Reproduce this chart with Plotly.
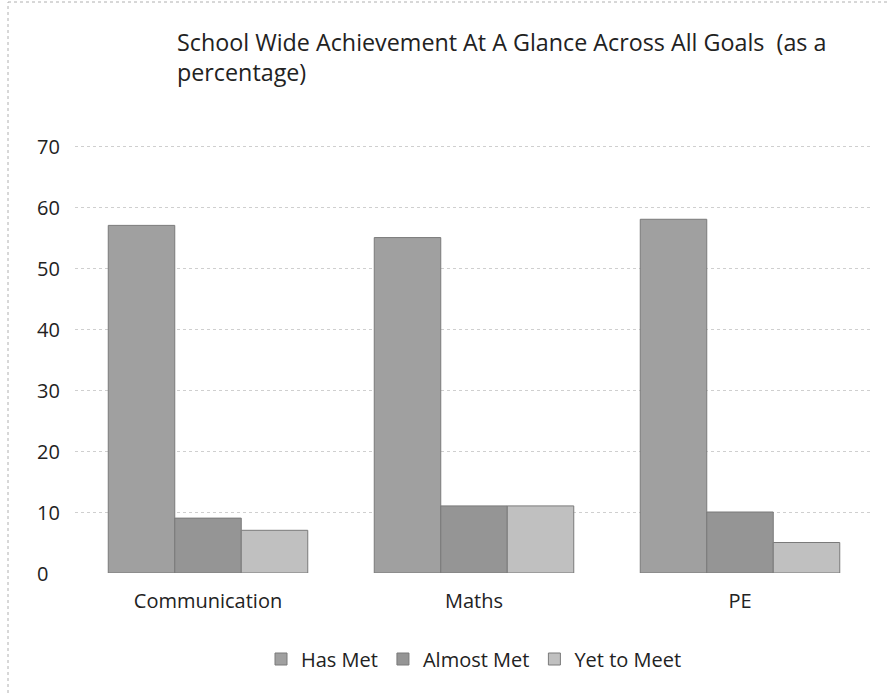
import plotly.graph_objects as go

# Goals on the x axis and the share of pupils in each band (%)
subjects = ["Communication", "Maths", "PE"]
has_met = [57, 55, 58]
almost_met = [9, 11, 10]
yet_to_meet = [7, 11, 5]

series_names = ["Has Met", "Almost Met", "Yet to Meet"]
series_colors = ["#a0a0a0", "#959595", "#c0c0c0"]
y_ticks = [0, 10, 20, 30, 40, 50, 60, 70]

title_text = "School Wide Achievement At A Glance Across All Goals  (as a<br>percentage)"

FONT = "'Open Sans', 'Noto Sans', sans-serif"
W, H = 889, 693
ML, MR, MT, MB = 75, 16, 140, 120
PW = W - ML - MR
PH = H - MT - MB
Y_MAX = 71


def px_y(py):
    """Paper y for a pixel row counted from the top of the page."""
    return 1 + (MT - py) / PH


fig = go.Figure()
for name, vals, col in zip(series_names, [has_met, almost_met, yet_to_meet], series_colors):
    fig.add_trace(go.Bar(
        x=subjects, y=vals, name=name,
        marker=dict(color=col, line=dict(color="#7a7a7a", width=1)),
    ))

# y tick labels, left-aligned in the margin
for t in y_ticks:
    fig.add_annotation(
        x=(35 - ML) / PW, xref="paper", y=t, yref="y",
        text=str(t), showarrow=False, xanchor="left", yanchor="middle",
        font=dict(family=FONT, size=20, color="#222"),
    )

# chart title
fig.add_annotation(
    x=(175 - ML) / PW, xref="paper", y=px_y(24), yref="paper",
    text=title_text, showarrow=False, xanchor="left", yanchor="top",
    align="left", font=dict(family=FONT, size=23.3, color="#222"),
)

# dotted frame around the chart area
frame = dict(color="#b0b0b0", width=1, dash="dot")
fig.add_shape(type="line", xref="paper", yref="paper",
              x0=(8 - ML) / PW, x1=(8 - ML) / PW,
              y0=px_y(H), y1=px_y(2), line=frame)
fig.add_shape(type="line", xref="paper", yref="paper",
              x0=(8 - ML) / PW, x1=(W - ML) / PW,
              y0=px_y(2), y1=px_y(2), line=frame)

fig.update_layout(
    width=W, height=H,
    margin=dict(l=ML, r=MR, t=MT, b=MB),
    paper_bgcolor="white", plot_bgcolor="white",
    barmode="group", bargap=0.25, bargroupgap=0,
    font=dict(family=FONT, size=20, color="#222"),
    showlegend=True,
    legend=dict(orientation="h", x=0.5, xanchor="center",
                y=px_y(659), yanchor="middle",
                font=dict(family=FONT, size=20, color="#222"),
                itemwidth=30, traceorder="normal"),
)
fig.update_xaxes(showline=False, ticks="", showgrid=False, ticklabelstandoff=14,
                 tickfont=dict(family=FONT, size=20, color="#222"))
fig.update_yaxes(range=[0, Y_MAX], tickvals=y_ticks, showticklabels=False,
                 showgrid=True, gridcolor="#cfcfcf", griddash="dot", gridwidth=1,
                 zeroline=False, showline=False, ticks="")

fig.write_html("out.html")
